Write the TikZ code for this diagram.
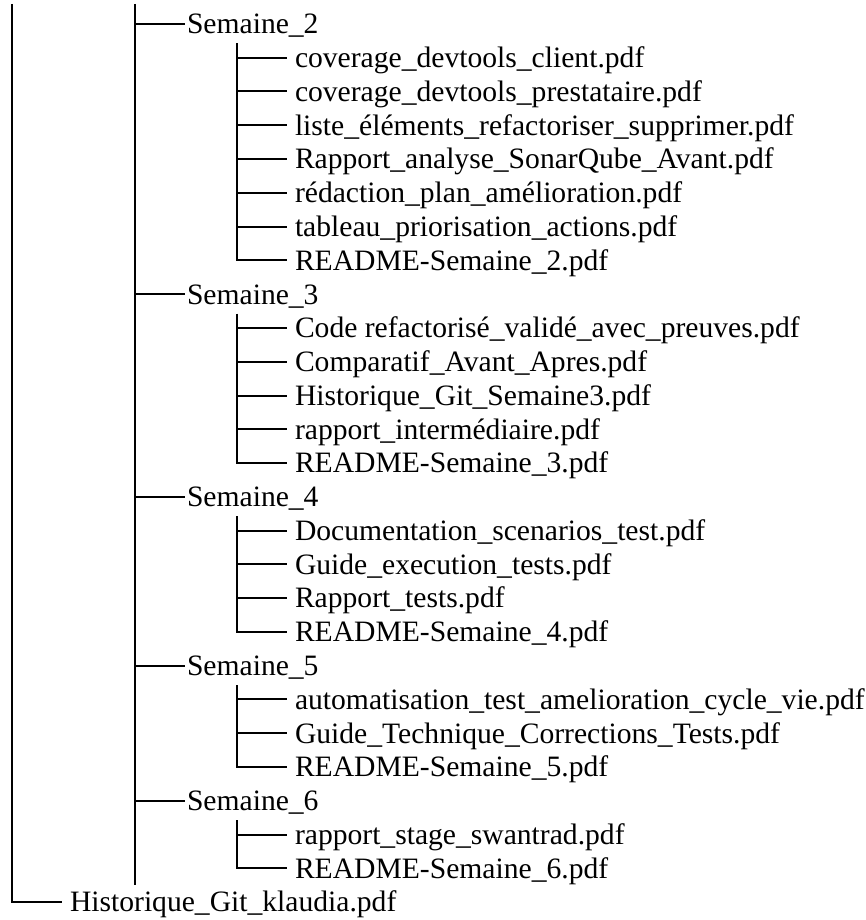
\documentclass[tikz,border=0pt]{standalone}
\usepackage{fontspec}
\setmainfont{Liberation Serif}
\usetikzlibrary{positioning}

\begin{document}
\begin{tikzpicture}[
    x=0.5pt,
    y=-0.5pt,
    line width=1pt,
    every node/.style={font=\fontsize{14.8}{17}\selectfont, inner ysep=0pt, text height=9.8pt, text depth=0pt, anchor=west},
    semaine/.style={inner xsep=0.5pt},
    fichier/.style={inner xsep=3.5pt},
    racine/.style={inner xsep=3.5pt}
  ]
  \useasboundingbox (0,0) rectangle (866,920);

  % --- TRONCS VERTICAUX ---
  \coordinate (top1) at (12,4);
  \coordinate (top2) at (135,4);
  \coordinate (bot2) at (135,885);

  % --- SEMAINE 2 ---
  \node[semaine] (s2) at (185,24) {Semaine\_2};
  \node[fichier] (s2a) at (287,57.8) {coverage\_devtools\_client.pdf};
  \node[fichier] (s2b) at (287,91.5) {coverage\_devtools\_prestataire.pdf};
  \node[fichier] (s2c) at (287,125.3) {liste\_éléments\_refactoriser\_supprimer.pdf};
  \node[fichier] (s2d) at (287,159.1) {Rapport\_analyse\_SonarQube\_Avant.pdf};
  \node[fichier] (s2e) at (287,192.9) {rédaction\_plan\_amélioration.pdf};
  \node[fichier] (s2f) at (287,226.6) {tableau\_priorisation\_actions.pdf};
  \node[fichier] (s2g) at (287,260.4) {README-Semaine\_2.pdf};

  % --- SEMAINE 3 ---
  \node[semaine] (s3) at (185,294.2) {Semaine\_3};
  \node[fichier] (s3a) at (287,327.9) {Code refactorisé\_validé\_avec\_preuves.pdf};
  \node[fichier] (s3b) at (287,361.7) {Comparatif\_Avant\_Apres.pdf};
  \node[fichier] (s3c) at (287,395.5) {Historique\_Git\_Semaine3.pdf};
  \node[fichier] (s3d) at (287,429.2) {rapport\_intermédiaire.pdf};
  \node[fichier] (s3e) at (287,463.0) {README-Semaine\_3.pdf};

  % --- SEMAINE 4 ---
  \node[semaine] (s4) at (185,496.8) {Semaine\_4};
  \node[fichier] (s4a) at (287,530.6) {Documentation\_scenarios\_test.pdf};
  \node[fichier] (s4b) at (287,564.3) {Guide\_execution\_tests.pdf};
  \node[fichier] (s4c) at (287,598.1) {Rapport\_tests.pdf};
  \node[fichier] (s4d) at (287,631.9) {README-Semaine\_4.pdf};

  % --- SEMAINE 5 ---
  \node[semaine] (s5) at (185,665.6) {Semaine\_5};
  \node[fichier] (s5a) at (287,699.4) {automatisation\_test\_amelioration\_cycle\_vie.pdf};
  \node[fichier] (s5b) at (287,733.2) {Guide\_Technique\_Corrections\_Tests.pdf};
  \node[fichier] (s5c) at (287,766.9) {README-Semaine\_5.pdf};

  % --- SEMAINE 6 ---
  \node[semaine] (s6) at (185,800.7) {Semaine\_6};
  \node[fichier] (s6a) at (287,834.5) {rapport\_stage\_swantrad.pdf};
  \node[fichier] (s6b) at (287,868.3) {README-Semaine\_6.pdf};

  % fichier à la racine
  \node[racine] (hist) at (62,902) {Historique\_Git\_klaudia.pdf};

  % --- CONNECTEURS ---
  \draw (top1) |- (hist.west);
  \draw (top2) -- (bot2);
  \foreach \s in {s2,s3,s4,s5,s6}
    \draw (\s.west -| top2) -- (\s.west);

  % sous-dossiers : tronc qui part sous le nom de la semaine
  \coordinate (v2) at ([shift={(26pt,-4.3pt)}]s2.south west);
  \coordinate (v3) at ([shift={(26pt,-4.3pt)}]s3.south west);
  \coordinate (v4) at ([shift={(26pt,-4.3pt)}]s4.south west);
  \coordinate (v5) at ([shift={(26pt,-4.3pt)}]s5.south west);
  \coordinate (v6) at ([shift={(26pt,-4.3pt)}]s6.south west);

  \draw (v2) |- (s2g.west);
  \foreach \f in {s2a,s2b,s2c,s2d,s2e,s2f}
    \draw (\f.west -| v2) -- (\f.west);

  \draw (v3) |- (s3e.west);
  \foreach \f in {s3a,s3b,s3c,s3d}
    \draw (\f.west -| v3) -- (\f.west);

  \draw (v4) |- (s4d.west);
  \foreach \f in {s4a,s4b,s4c}
    \draw (\f.west -| v4) -- (\f.west);

  \draw (v5) |- (s5c.west);
  \foreach \f in {s5a,s5b}
    \draw (\f.west -| v5) -- (\f.west);

  \draw (v6) |- (s6b.west);
  \draw (s6a.west -| v6) -- (s6a.west);

\end{tikzpicture}
\end{document}
